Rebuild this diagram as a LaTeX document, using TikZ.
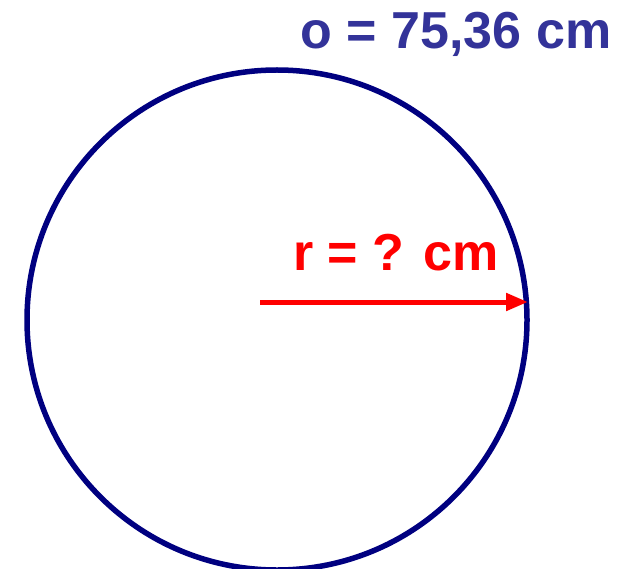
\documentclass[tikz,border=0pt]{standalone}
\usepackage{fontspec}
\setmainfont{Liberation Sans}
\usetikzlibrary{arrows.meta}
\definecolor{navy}{RGB}{0,0,128}
\definecolor{labelblue}{RGB}{51,51,153}
\definecolor{myred}{RGB}{255,0,0}
\tikzset{
  lbl/.style={font=\fontsize{52}{60}\selectfont\bfseries, inner sep=0pt, anchor=base},
}
\begin{document}
\begin{tikzpicture}[x=1pt,y=-1pt]
\useasboundingbox (0,0) rectangle (628,569);
\clip (0,0) rectangle (628,569);
\coordinate (c) at (277,320);
\draw[navy, line width=5.5pt] (c) circle[radius=250];
\coordinate (rstart) at (260,302);
\coordinate (rend) at (528,302);
\draw[myred, line width=5pt, -{Triangle[length=22pt,width=17pt]}] (rstart) -- (rend);
\node[lbl, text=myred] (rlabel) at (396,270) {r = ? cm};
\node[lbl, text=labelblue] (olabel) at (456,49) {o = 75,36 cm};
\end{tikzpicture}
\end{document}
